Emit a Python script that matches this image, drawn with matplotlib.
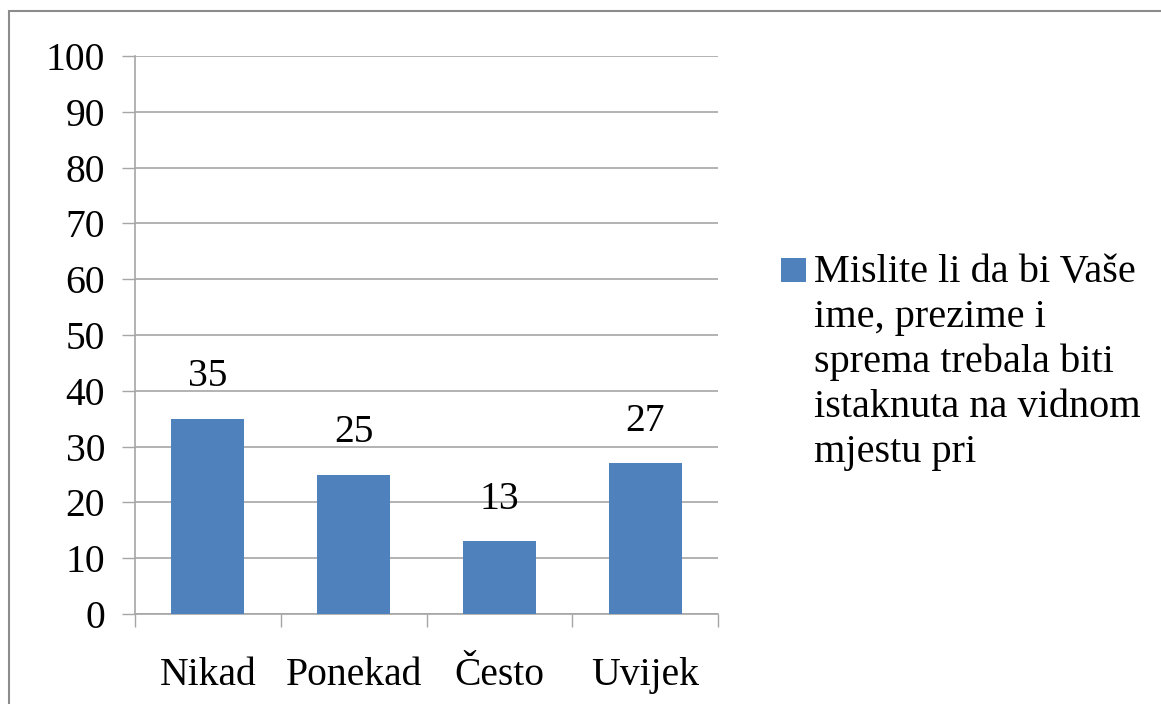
import matplotlib
matplotlib.use("Agg")
import matplotlib.pyplot as plt
from matplotlib.patches import Rectangle

categories = ["Nikad", "Ponekad", "Često", "Uvijek"]
values = [35, 25, 13, 27]
series_name = "Mislite li da bi Vaše\nime, prezime i\nsprema trebala biti\nistaknuta na vidnom\nmjestu pri"
yticks = [0, 10, 20, 30, 40, 50, 60, 70, 80, 90, 100]

plt.rcParams['font.family'] = ['Liberation Serif', 'DejaVu Serif']
W, H = 1161, 704
fig = plt.figure(figsize=(W / 100, H / 100), dpi=100)
bar_color = "#4F81BD"
grid_color = "#A6A6A6"
fs = 28.5

# outer border
fig.patches.append(Rectangle((8.5 / W, -0.1), 1.2, 1 - 11.5 / H + 0.1, transform=fig.transFigure,
                             fill=False, edgecolor="#8C8C8C", linewidth=1.5))

left, right, top, bottom = 135, 718, 56, 614
ax = fig.add_axes([left / W, 1 - bottom / H, (right - left) / W, (bottom - top) / H])

x = range(len(categories))
bars = ax.bar(x, values, width=0.5, color=bar_color, zorder=3)
ax.set_xlim(-0.5, len(categories) - 0.5)
ax.set_ylim(0, 100)
ax.set_yticks(yticks)
ax.set_yticklabels([str(t) for t in yticks], fontsize=fs)
ax.yaxis.grid(True, color=grid_color, linewidth=1.2, zorder=0)
ax.set_axisbelow(True)

ax.set_xticks([i for i in x])
ax.set_xticklabels(categories, fontsize=fs)
ax.tick_params(axis='x', length=0, pad=31)
ax.set_xticks([i - 0.5 for i in range(len(categories) + 1)], minor=True)
ax.tick_params(axis='x', which='minor', length=9.5, width=1, color=grid_color)
ax.tick_params(axis='y', length=9.5, width=1, color=grid_color, pad=12)

for s in ['top', 'right']:
    ax.spines[s].set_visible(False)
ax.spines['left'].set_color(grid_color)
ax.spines['bottom'].set_color(grid_color)
ax.spines['left'].set_linewidth(1.2)
ax.spines['bottom'].set_linewidth(1.2)

for b, v in zip(bars, values):
    ax.annotate(str(v), (b.get_x() + b.get_width() / 2, v), xytext=(0, 17),
                textcoords='offset points', ha='center', va='bottom', fontsize=fs)

# legend
fig.patches.append(Rectangle((781 / W, 1 - 282 / H), 25 / W, 24 / H, transform=fig.transFigure,
                             facecolor=bar_color, edgecolor='none'))
fig.text(814 / W, 1 - 254 / H, series_name, fontsize=29, va='top', ha='left', linespacing=1.28)

fig.savefig("out.png", dpi=100)
